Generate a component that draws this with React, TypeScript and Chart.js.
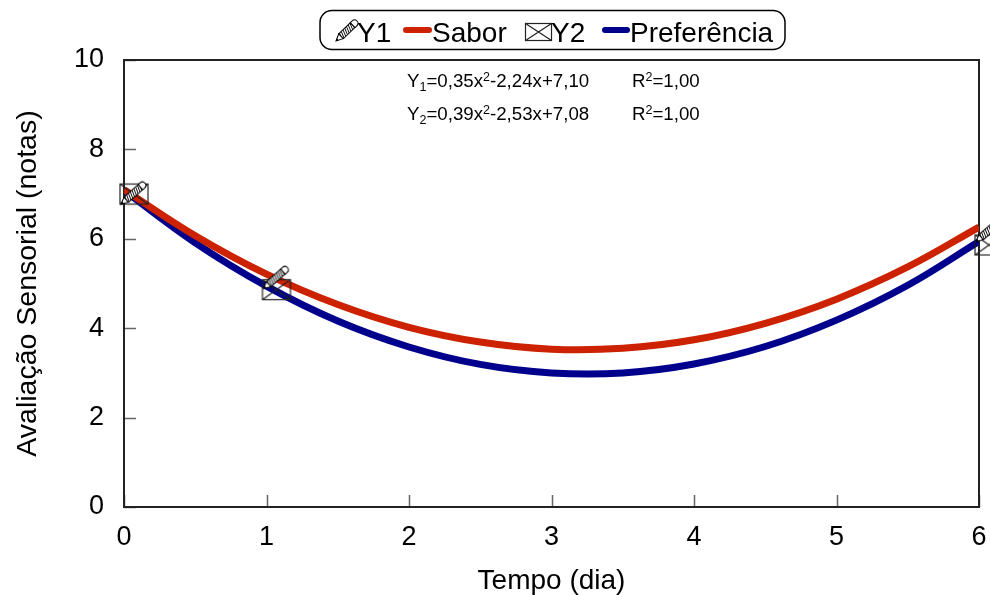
import React, { useEffect, useRef } from "react";
import { Chart, registerables } from "chart.js";

Chart.register(...registerables);

const FONT = "'Liberation Sans', Arial, Helvetica, sans-serif";

// Fitted curves
const curveX = [0, 0.5, 1, 1.5, 2, 2.5, 3, 3.5, 4, 4.5, 5, 5.5, 6];
const saborY = [7.1, 6.07, 5.21, 4.53, 4.02, 3.69, 3.53, 3.55, 3.74, 4.11, 4.65, 5.37, 6.26];
const preferenciaY = [7.08, 5.91, 4.94, 4.16, 3.58, 3.19, 3.0, 3.0, 3.2, 3.59, 4.18, 4.96, 5.94];

// Observed points
const pointX = [0, 1, 6];
const y1Points = [7.1, 5.21, 6.26];
const y2Points = [7.08, 4.94, 5.94];

// Axes
const xTicks = [0, 1, 2, 3, 4, 5, 6];
const yTicks = [0, 2, 4, 6, 8, 10];
const xTitle = "Tempo (dia)";
const yTitle = "Avaliação Sensorial (notas)";

// Legend + equations
const legendLabels = ["Y1", "Sabor", "Y2", "Preferência"];
const eqNames = ["Y", "Y"];
const eqSubs = ["1", "2"];
const eqA = ["=0,35x", "=0,39x"];
const eqB = ["-2,24x+7,10", "-2,53x+7,08"];
const eqR2 = ["=1,00", "=1,00"];

const RED = "rgb(204,34,0)";
const BLUE = "rgb(0,0,140)";

function drawPencil(ctx: CanvasRenderingContext2D, tx: number, ty: number, ex: number, ey: number) {
  const dx = ex - tx;
  const dy = ey - ty;
  const L = Math.hypot(dx, dy);
  const ang = Math.atan2(dy, dx);
  const w = 3.4;
  ctx.save();
  ctx.translate(tx, ty);
  ctx.rotate(ang);
  ctx.lineWidth = 1;
  ctx.strokeStyle = "#000";
  ctx.fillStyle = "#fff";
  ctx.beginPath();
  ctx.moveTo(0, 0);
  ctx.lineTo(7, -w);
  ctx.lineTo(7, w);
  ctx.closePath();
  ctx.fill();
  ctx.stroke();
  ctx.fillStyle = "#000";
  ctx.beginPath();
  ctx.moveTo(0, 0);
  ctx.lineTo(2.6, -1.3);
  ctx.lineTo(2.6, 1.3);
  ctx.closePath();
  ctx.fill();
  const bodyEnd = L - 6;
  ctx.fillStyle = "#fff";
  ctx.fillRect(7, -w, bodyEnd - 7, 2 * w);
  ctx.save();
  ctx.beginPath();
  ctx.rect(7, -w, bodyEnd - 7, 2 * w);
  ctx.clip();
  ctx.beginPath();
  for (let s = 8; s < bodyEnd + 4; s += 2.4) {
    ctx.moveTo(s, -w);
    ctx.lineTo(s - 2.5, w);
  }
  ctx.lineWidth = 0.9;
  ctx.stroke();
  ctx.restore();
  ctx.lineWidth = 1;
  ctx.strokeRect(7, -w, bodyEnd - 7, 2 * w);
  ctx.fillStyle = "#fff";
  ctx.beginPath();
  ctx.moveTo(bodyEnd, -w);
  ctx.lineTo(L - w, -w);
  ctx.arc(L - w, 0, w, -Math.PI / 2, Math.PI / 2);
  ctx.lineTo(bodyEnd, w);
  ctx.closePath();
  ctx.fill();
  ctx.stroke();
  ctx.restore();
}

function drawEnvelope(ctx: CanvasRenderingContext2D, x: number, y: number, w: number, h: number) {
  ctx.save();
  ctx.strokeStyle = "#222";
  ctx.lineWidth = 1.2;
  ctx.strokeRect(x, y, w, h);
  ctx.beginPath();
  ctx.moveTo(x, y);
  ctx.lineTo(x + w, y + h);
  ctx.moveTo(x + w, y);
  ctx.lineTo(x, y + h);
  ctx.stroke();
  ctx.restore();
}

function makePencilMarker(): HTMLCanvasElement {
  const c = document.createElement("canvas");
  c.width = 50;
  c.height = 38;
  const ctx = c.getContext("2d")!;
  drawPencil(ctx, 25 - 3, 19 + 14.5, 25 + 21, 19 - 6.5);
  return c;
}

function makeEnvelopeMarker(): HTMLCanvasElement {
  const c = document.createElement("canvas");
  c.width = 52;
  c.height = 30;
  const ctx = c.getContext("2d")!;
  drawEnvelope(ctx, 26 - 4, 15 - 6.5, 28, 20);
  return c;
}

const framePlugin = {
  id: "frameTicks",
  beforeDatasetsDraw(chart: any) {
    const { ctx, chartArea } = chart;
    const { left, right, top, bottom } = chartArea;
    const xs = chart.scales.x;
    const ys = chart.scales.y;
    ctx.save();
    ctx.strokeStyle = "#666";
    ctx.lineWidth = 1.5;
    ctx.beginPath();
    yTicks.forEach((v) => {
      const py = Math.round(ys.getPixelForValue(v)) + 0.5;
      ctx.moveTo(left, py);
      ctx.lineTo(left + 12, py);
    });
    xTicks.forEach((v) => {
      const px = Math.round(xs.getPixelForValue(v)) + 0.5;
      ctx.moveTo(px, bottom);
      ctx.lineTo(px, bottom - 12);
    });
    ctx.stroke();
    ctx.strokeStyle = "#222";
    ctx.lineWidth = 2;
    ctx.strokeRect(left, top, right - left, bottom - top);
    ctx.restore();
  },
};

const overlayPlugin = {
  id: "overlay",
  afterDraw(chart: any) {
    const { ctx } = chart;
    ctx.save();
    ctx.strokeStyle = "#000";
    ctx.lineWidth = 1.5;
    ctx.beginPath();
    (ctx as any).roundRect(320, 10.5, 465, 39, 12);
    ctx.stroke();
    ctx.fillStyle = "#000";
    ctx.font = `28px ${FONT}`;
    ctx.textBaseline = "alphabetic";
    ctx.textAlign = "left";
    drawPencil(ctx, 336, 41, 357, 21);
    ctx.fillText(legendLabels[0], 357, 42);
    ctx.lineCap = "round";
    ctx.lineWidth = 6;
    ctx.strokeStyle = RED;
    ctx.beginPath();
    ctx.moveTo(406, 30);
    ctx.lineTo(429, 30);
    ctx.stroke();
    ctx.fillText(legendLabels[1], 432, 42);
    drawEnvelope(ctx, 525.5, 23.5, 26, 17);
    ctx.fillText(legendLabels[2], 551, 42);
    ctx.strokeStyle = BLUE;
    ctx.beginPath();
    ctx.moveTo(605, 30);
    ctx.lineTo(627, 30);
    ctx.stroke();
    ctx.fillText(legendLabels[3], 630, 42);

    const baselines = [87, 120];
    const big = `18.7px ${FONT}`;
    const small = `12.5px ${FONT}`;
    for (let i = 0; i < 2; i++) {
      const by = baselines[i];
      let x = 407;
      ctx.font = big;
      ctx.fillText(eqNames[i], x, by);
      x += ctx.measureText(eqNames[i]).width;
      ctx.font = small;
      ctx.fillText(eqSubs[i], x, by + 4);
      x += ctx.measureText(eqSubs[i]).width;
      ctx.font = big;
      ctx.fillText(eqA[i], x, by);
      x += ctx.measureText(eqA[i]).width;
      ctx.font = small;
      ctx.fillText("2", x, by - 6);
      x += ctx.measureText("2").width;
      ctx.font = big;
      ctx.fillText(eqB[i], x, by);
      let rx = 632;
      ctx.fillText("R", rx, by);
      rx += ctx.measureText("R").width;
      ctx.font = small;
      ctx.fillText("2", rx, by - 6);
      rx += ctx.measureText("2").width;
      ctx.font = big;
      ctx.fillText(eqR2[i], rx, by);
    }
    ctx.restore();
  },
};

export default function App() {
  const ref = useRef<HTMLCanvasElement | null>(null);

  useEffect(() => {
    if (!ref.current) return;
    Chart.defaults.font.family = FONT;
    const pencil = makePencilMarker();
    const envelope = makeEnvelopeMarker();
    const chart = new Chart(ref.current, {
      type: "line",
      data: {
        datasets: [
          {
            label: legendLabels[0],
            data: pointX.map((x, i) => ({ x, y: y1Points[i] })),
            showLine: false,
            pointStyle: pencil as any,
            pointRadius: 10,
            clip: false as any,
            order: 0,
          },
          {
            label: legendLabels[2],
            data: pointX.map((x, i) => ({ x, y: y2Points[i] })),
            showLine: false,
            pointStyle: envelope as any,
            pointRadius: 10,
            clip: false as any,
            order: 1,
          },
          {
            label: legendLabels[1],
            data: curveX.map((x, i) => ({ x, y: saborY[i] })),
            borderColor: RED,
            borderWidth: 7,
            pointRadius: 0,
            tension: 0.4,
            fill: false,
            order: 2,
          },
          {
            label: legendLabels[3],
            data: curveX.map((x, i) => ({ x, y: preferenciaY[i] })),
            borderColor: BLUE,
            borderWidth: 7,
            pointRadius: 0,
            tension: 0.4,
            fill: false,
            order: 3,
          },
        ],
      },
      options: {
        animation: false,
        responsive: false,
        devicePixelRatio: 1,
        events: [],
        layout: { padding: { top: 60, right: 10, left: 0, bottom: 0 } },
        plugins: { legend: { display: false }, tooltip: { enabled: false }, title: { display: false } },
        scales: {
          x: {
            type: "linear",
            min: 0,
            max: 6,
            afterBuildTicks: (s: any) => {
              s.ticks = xTicks.map((v) => ({ value: v }));
            },
            afterFit: (s: any) => {
              s.height = 88;
              s.paddingLeft = 0;
              s.paddingRight = 0;
            },
            grid: { display: false, drawTicks: false },
            border: { display: false },
            ticks: { color: "#000", font: { size: 27 }, padding: 14, maxRotation: 0 },
            title: { display: true, text: xTitle, color: "#000", font: { size: 28 }, padding: { top: 0, bottom: -3 } },
          },
          y: {
            min: 0,
            max: 10,
            afterBuildTicks: (s: any) => {
              s.ticks = yTicks.map((v) => ({ value: v }));
            },
            afterFit: (s: any) => {
              s.width = 124;
              s.paddingTop = 0;
              s.paddingBottom = 0;
            },
            grid: { display: false, drawTicks: false },
            border: { display: false },
            ticks: { color: "#000", font: { size: 27 }, padding: 20 },
            title: { display: true, text: yTitle, color: "#000", font: { size: 28.5 }, padding: { top: 11, bottom: 0 } },
          },
        },
      },
      plugins: [framePlugin, overlayPlugin],
    });
    return () => chart.destroy();
  }, []);

  return (
    <div style={{ position: "absolute", left: 0, top: 0, width: 990, height: 595, background: "#fff" }}>
      <canvas ref={ref} width={990} height={595} style={{ width: 990, height: 595, display: "block" }} />
    </div>
  );
}
